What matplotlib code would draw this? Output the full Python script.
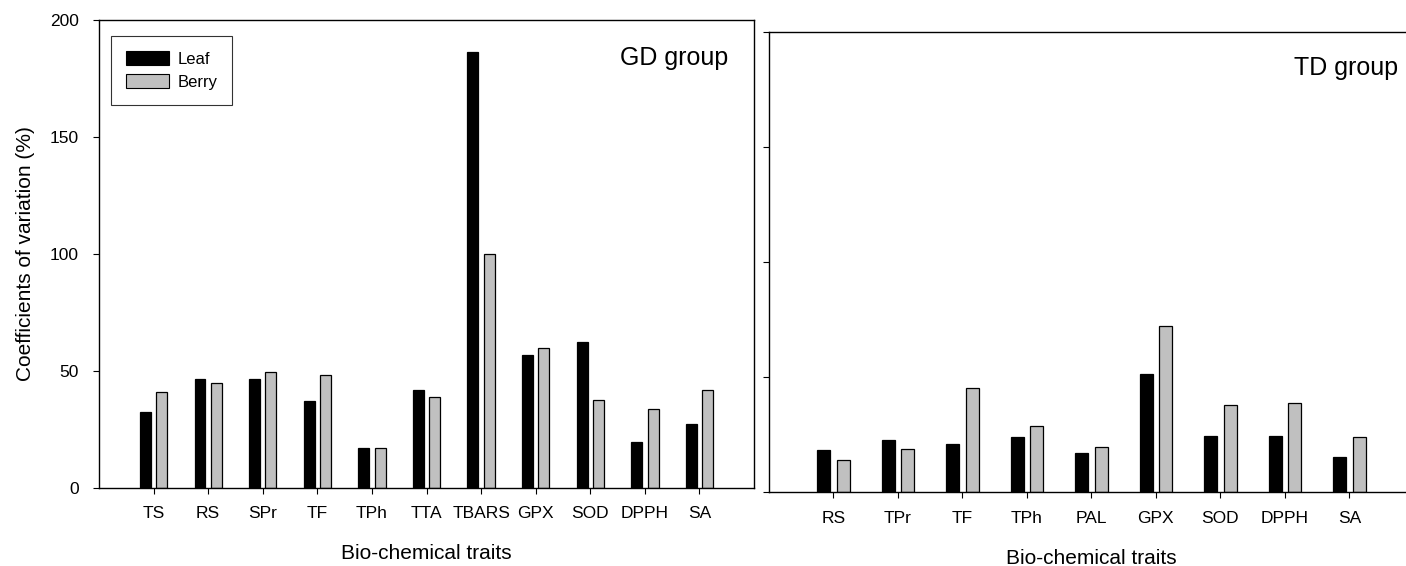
import numpy as np
import matplotlib
matplotlib.use("Agg")
import matplotlib.pyplot as plt
from matplotlib.patches import Patch

plt.rcParams['font.family'] = ['Liberation Sans', 'DejaVu Sans']

# GD group (left panel)
gd_traits = ["TS", "RS", "SPr", "TF", "TPh", "TTA", "TBARS", "GPX", "SOD", "DPPH", "SA"]
gd_leaf = [32.5, 46.4, 46.4, 37.0, 17.0, 41.8, 186.5, 56.8, 62.3, 19.7, 27.3]
gd_berry = [41.1, 44.7, 49.4, 48.0, 17.0, 39.0, 99.8, 59.8, 37.6, 33.6, 41.8]

# TD group (right panel)
td_traits = ["RS", "TPr", "TF", "TPh", "PAL", "GPX", "SOD", "DPPH", "SA"]
td_leaf = [18.1, 22.5, 20.7, 23.8, 17.1, 51.3, 24.5, 24.5, 15.3]
td_berry = [13.9, 18.8, 45.4, 28.8, 19.4, 72.0, 37.7, 38.8, 24.0]

LEAF_COLOR = "black"
BERRY_COLOR = "#c0c0c0"
bar_w = 0.2
off = 0.15

fig = plt.figure(figsize=(14.06, 5.66), dpi=100)
ax1 = fig.add_axes([0.0704, 0.1383, 0.4659, 0.8264])
ax2 = fig.add_axes([0.5469, 0.1307, 0.4587, 0.8127])


def draw_panel(ax, traits, leaf, berry, xmax):
    x = np.arange(1, len(traits) + 1)
    ax.bar(x - off, leaf, width=bar_w, color=LEAF_COLOR, edgecolor="black", linewidth=0.9)
    ax.bar(x + off, berry, width=bar_w, color=BERRY_COLOR, edgecolor="black", linewidth=0.9)
    ax.set_xlim(0, xmax)
    ax.set_ylim(0, 200)
    ax.set_xticks(x)
    ax.set_xticklabels(traits)
    ax.set_yticks([0, 50, 100, 150, 200])
    ax.tick_params(axis="x", direction="out", length=4.5, width=0.8, pad=9, labelsize=12.5)
    ax.tick_params(axis="y", direction="out", length=4.5, width=0.8, pad=10, labelsize=12.5)
    ax.set_xlabel("Bio-chemical traits", fontsize=15, labelpad=16.5)
    for s in ax.spines.values():
        s.set_linewidth(1.0)


draw_panel(ax1, gd_traits, gd_leaf, gd_berry, 12)
draw_panel(ax2, td_traits, td_leaf, td_berry, 10)

ax1.set_ylabel("Coefficients of variation (%)", fontsize=15, labelpad=10.5)
ax2.set_yticklabels([])
ax2.spines["right"].set_visible(False)

ax1.text(0.9605, 0.904, "GD group", transform=ax1.transAxes, ha="right", va="baseline", fontsize=18)
ax2.text(0.975, 0.9065, "TD group", transform=ax2.transAxes, ha="right", va="baseline", fontsize=18)

handles = [Patch(facecolor=LEAF_COLOR, edgecolor="black", linewidth=0.8, label="Leaf"),
           Patch(facecolor=BERRY_COLOR, edgecolor="black", linewidth=0.8, label="Berry")]
leg = ax1.legend(handles=handles, loc="upper left", bbox_to_anchor=(0.018, 0.966),
                 borderaxespad=0, fontsize=12, fancybox=False, frameon=True,
                 handlelength=2.6, handleheight=0.9, handletextpad=0.5,
                 borderpad=0.9, labelspacing=0.45)
leg.get_frame().set_edgecolor("black")
leg.get_frame().set_linewidth(0.8)

fig.savefig("out.png", dpi=100)
